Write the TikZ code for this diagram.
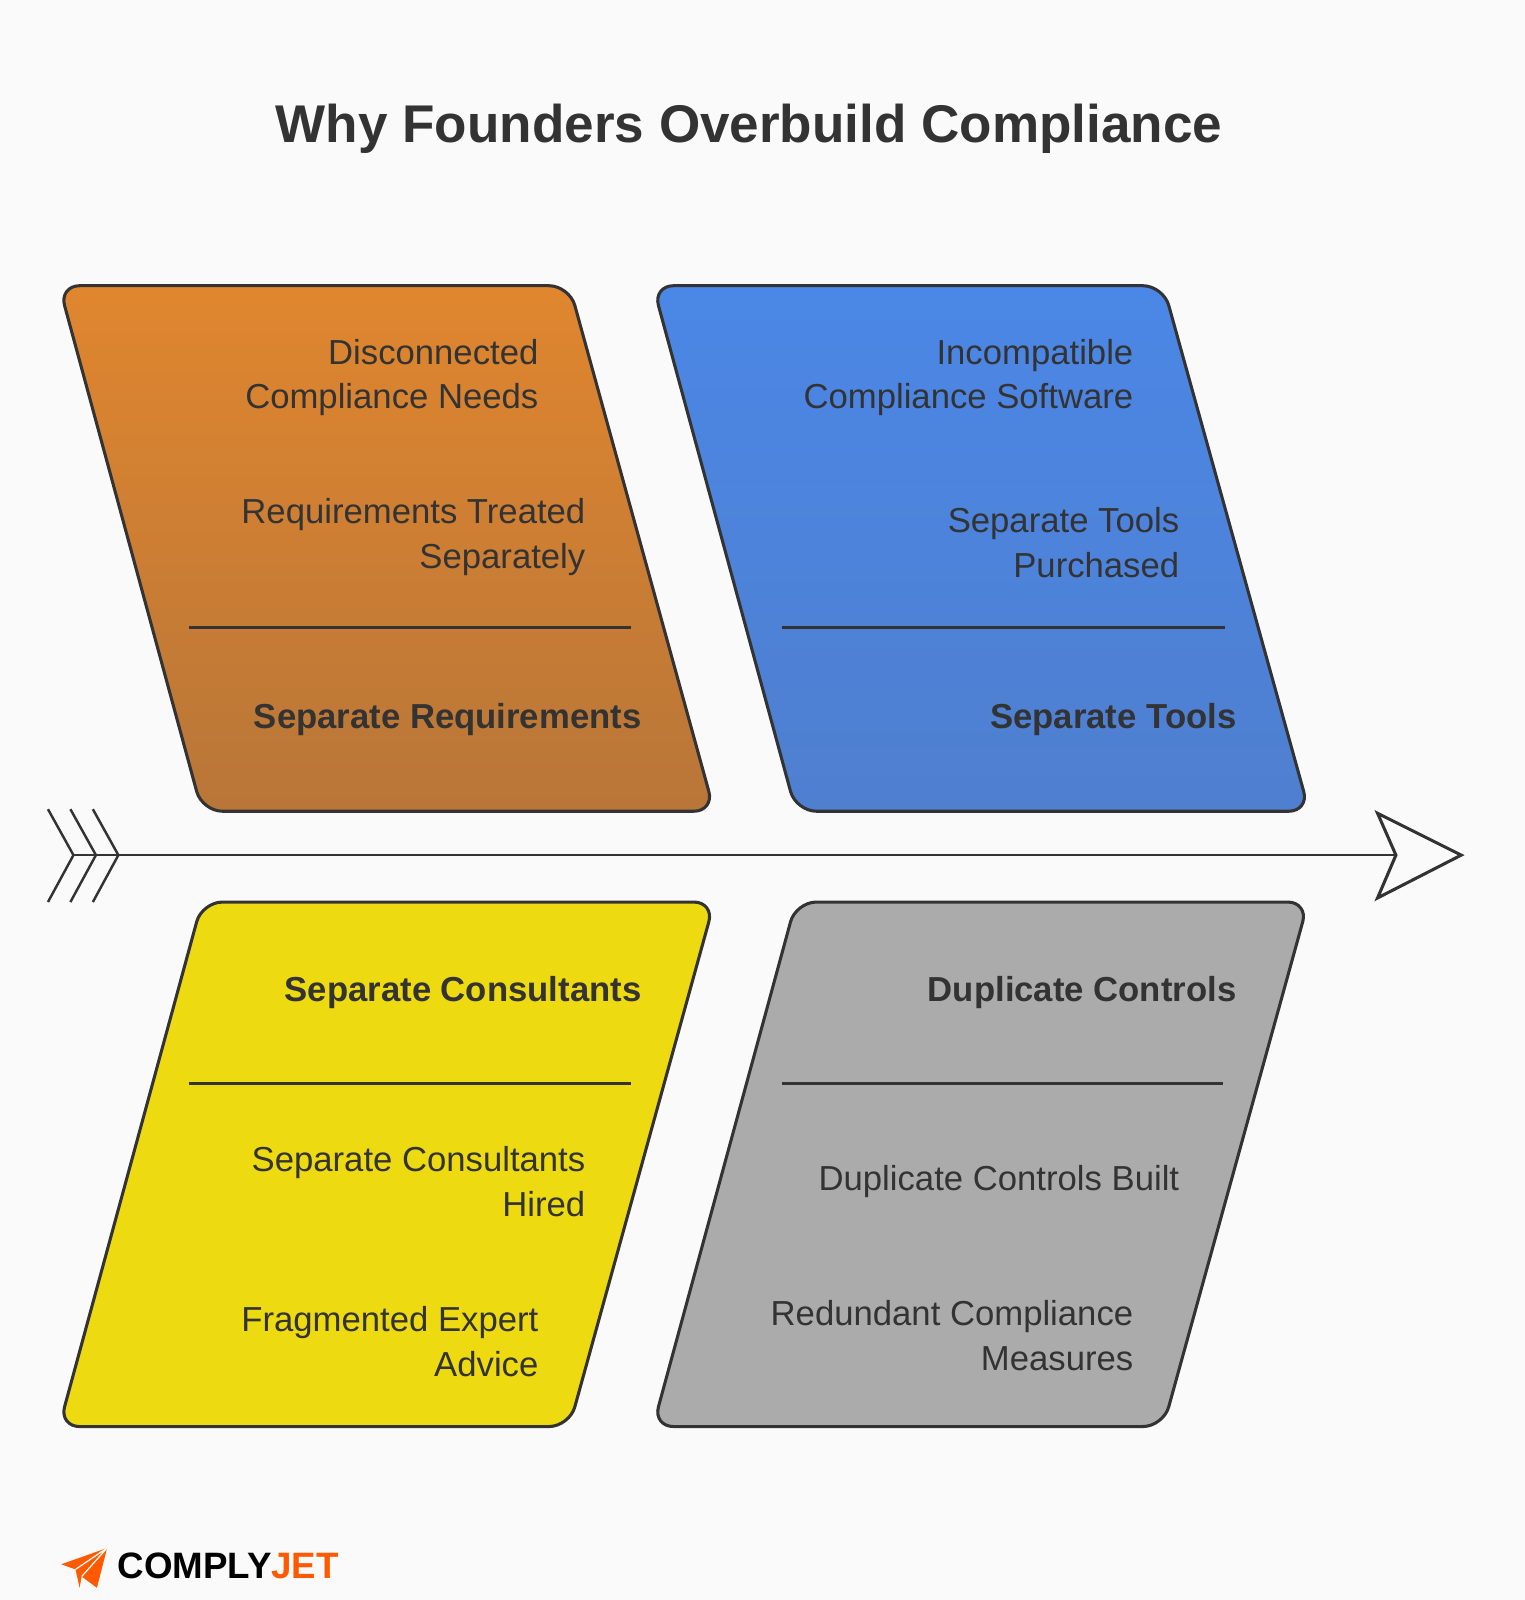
\documentclass[tikz,border=0pt]{standalone}
\usepackage{fontspec}
\setmainfont{Liberation Sans}
\usetikzlibrary{positioning}
\definecolor{bgcol}{HTML}{FAFAFA}
\definecolor{ink}{HTML}{333333}
\definecolor{orangeT}{HTML}{E0862F}
\definecolor{orangeB}{HTML}{B87638}
\definecolor{blueT}{HTML}{4B87E6}
\definecolor{blueB}{HTML}{4F7FCF}
\definecolor{yellowF}{HTML}{EEDA10}
\definecolor{grayF}{HTML}{ABABAB}
\definecolor{jet}{HTML}{FF5A00}
\tikzset{
  box/.style={draw=ink, line width=1.5pt, rounded corners=10pt},
  divider/.style={draw=ink, line width=1.2pt},
  cause/.style={anchor=east, align=right, inner sep=0pt, text=ink, font=\fontsize{17}{22}\selectfont},
  head/.style={anchor=east, align=right, inner sep=0pt, text=ink, font=\bfseries\fontsize{17}{22}\selectfont},
}
\begin{document}
\begin{tikzpicture}[x=0.5pt, y=-0.5pt]
\fill[bgcol] (0,0) rectangle (1494,1568);
\useasboundingbox (0,0) rectangle (1494,1568);
\node[text=ink, font=\bfseries\fontsize{26}{30}\selectfont] (title) at (734,126) {Why Founders Overbuild Compliance};

% spine
\draw[ink, line width=1.2pt] (72,838) -- (1368,838);
\foreach \dx in {0,22,44}
  \draw[ink, line width=1.2pt] (47+\dx,793) -- (72+\dx,838) -- (47+\dx,884);
\draw[ink, line width=1.5pt, fill=bgcol, line join=miter] (1350,797) -- (1432,838) -- (1350,880) -- (1368,838) -- cycle;

% boxes
\shade[box, top color=orangeT, bottom color=orangeB] (58,280) -- (558,280) -- (700,795) -- (198,795) -- cycle;
\shade[box, top color=blueT, bottom color=blueB] (640,280) -- (1140,280) -- (1283,795) -- (780,795) -- cycle;
\filldraw[box, fill=yellowF] (198,884) -- (700,884) -- (558,1398) -- (58,1398) -- cycle;
\filldraw[box, fill=grayF] (780,884) -- (1282,884) -- (1140,1398) -- (640,1398) -- cycle;

\draw[divider] (185,615) -- (618,615);
\draw[divider] (766,615) -- (1200,615);
\draw[divider] (185,1062) -- (618,1062);
\draw[divider] (766,1062) -- (1199,1062);

% texts
\node[cause] (disc) at (528,370) {Disconnected\\Compliance Needs};
\node[cause] (treat) at (574,526) {Requirements Treated\\Separately};
\node[head] (req) at (629,705) {Separate Requirements};
\node[cause] (incomp) at (1111,370) {Incompatible\\Compliance Software};
\node[cause] (purch) at (1156,532) {Separate Tools\\Purchased};
\node[head] (tools) at (1212,705) {Separate Tools};
\node[head] (cons) at (629,973) {Separate Consultants};
\node[cause] (hired) at (574,1158) {Separate Consultants\\Hired};
\node[cause] (frag) at (528,1315) {Fragmented Expert\\Advice};
\node[head] (dup) at (1212,973) {Duplicate Controls};
\node[cause] (built) at (1156,1158) {Duplicate Controls Built};
\node[cause] (redund) at (1111,1309) {Redundant Compliance\\Measures};

% logo
\fill[jet] (60,1533) -- (105,1517) -- (95,1556) -- (80,1545) -- (78,1556) -- (74,1538) -- cycle;
\draw[white, line width=0.6pt] (74,1538) -- (105,1517) -- (80,1545);
\node[anchor=west, font=\bfseries\fontsize{18}{20}\selectfont, inner sep=0pt] (logo) at (115,1535) {COMPLY\textcolor{jet}{JET}};
\end{tikzpicture}
\end{document}
